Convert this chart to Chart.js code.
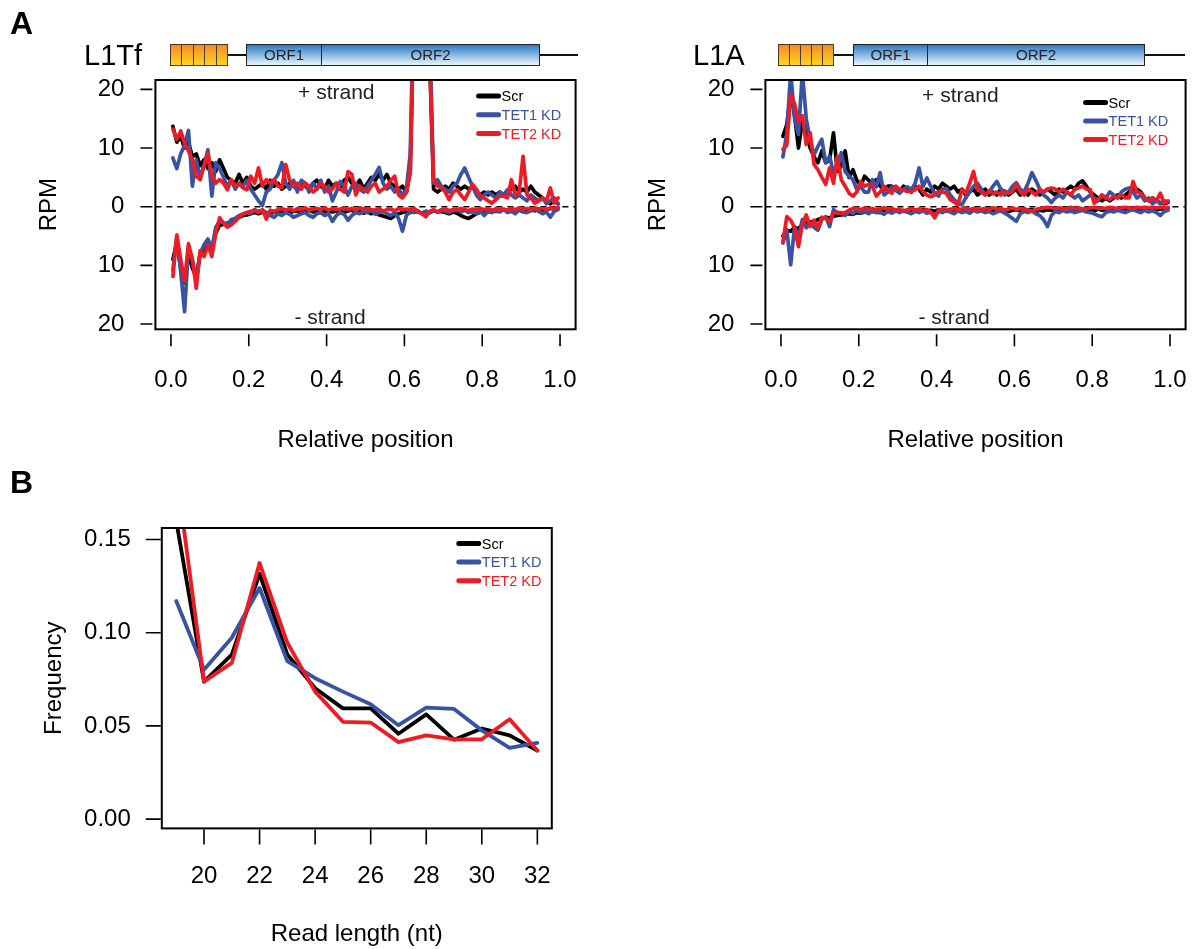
<!DOCTYPE html>
<html>
<head>
<meta charset="utf-8">
<script src="https://cdn.jsdelivr.net/npm/chart.js@4.4.1/dist/chart.umd.min.js"></script>
<style>
  body { margin: 0; background: #fff; }
  #fig { position: relative; width: 1196px; height: 949px; font-family: "Liberation Sans", Arial, sans-serif; color: #000; }
  canvas { position: absolute; }
  .panel { position: absolute; font-weight: bold; font-size: 32px; line-height: 1; }
  .te-name { position: absolute; font-size: 29px; line-height: 1; }
  .te-line { position: absolute; height: 2px; background: #111; }
  .utr { position: absolute; height: 22px; display: flex; box-sizing: border-box; border: 1px solid #4a3a1a; }
  .utr span { flex: 1; background: linear-gradient(#f28a2c, #ffd41e); border-left: 1px solid #4a3a1a; }
  .utr span:first-child { border-left: none; }
  .orf { position: absolute; height: 22px; display: flex; box-sizing: border-box; border: 1px solid #222;
         background: linear-gradient(#2b7bc1, #e9f5fd); font-size: 15px; line-height: 20px; text-align: center; color: #222; }
  .orf div { height: 100%; }
  .orf .o1 { border-right: 1.5px solid #222; }
  .orf .o2 { flex: 1; }
</style>
</head>
<body>
<div id="fig">
  <canvas id="l1tfChart" width="610" height="470" style="left:0;top:0"></canvas>
  <canvas id="l1aChart" width="586" height="470" style="left:610px;top:0"></canvas>
  <canvas id="lengthChart" width="600" height="479" style="left:0;top:470px"></canvas>

  <div class="panel" style="left:10px;top:7px">A</div>
  <div class="panel" style="left:10px;top:466px">B</div>

  <!-- element schematics -->
  <div class="te-name" style="left:84px;top:41px">L1Tf</div>
  <div class="te-line" style="left:228px;top:54px;width:350px"></div>
  <div class="utr" style="left:170px;top:44px;width:58px"><span></span><span></span><span></span><span></span><span></span></div>
  <div class="orf" style="left:246px;top:44px;width:294px"><div class="o1" style="width:74px">ORF1</div><div class="o2">ORF2</div></div>

  <div class="te-name" style="left:693px;top:41px">L1A</div>
  <div class="te-line" style="left:834px;top:54px;width:351px"></div>
  <div class="utr" style="left:778px;top:44px;width:56px"><span></span><span></span><span></span><span></span><span></span></div>
  <div class="orf" style="left:853px;top:44px;width:292px"><div class="o1" style="width:73px">ORF1</div><div class="o2">ORF2</div></div>
</div>

<script>
// ---------------------------------------------------------------------------
// Data
// ---------------------------------------------------------------------------
const seriesNames = ['Scr', 'TET1 KD', 'TET2 KD'];
const seriesColors = ['#000000', '#3953a4', '#ed1c24'];

const positions = [
  0.005, 0.015, 0.025, 0.035, 0.045, 0.055, 0.065, 0.075, 0.085, 0.095,
  0.105, 0.115, 0.125, 0.135, 0.145, 0.155, 0.165, 0.175, 0.185, 0.195,
  0.205, 0.215, 0.225, 0.235, 0.245, 0.255, 0.265, 0.275, 0.285, 0.295,
  0.305, 0.315, 0.325, 0.335, 0.345, 0.355, 0.365, 0.375, 0.385, 0.395,
  0.405, 0.415, 0.425, 0.435, 0.445, 0.455, 0.465, 0.475, 0.485, 0.495,
  0.505, 0.515, 0.525, 0.535, 0.545, 0.555, 0.565, 0.575, 0.585, 0.595,
  0.605, 0.615, 0.625, 0.635, 0.645, 0.655, 0.665, 0.675, 0.685, 0.695,
  0.705, 0.715, 0.725, 0.735, 0.745, 0.755, 0.765, 0.775, 0.785, 0.795,
  0.805, 0.815, 0.825, 0.835, 0.845, 0.855, 0.865, 0.875, 0.885, 0.895,
  0.905, 0.915, 0.925, 0.935, 0.945, 0.955, 0.965, 0.975, 0.985, 0.995
];
const relPosTicks = [0, 0.2, 0.4, 0.6, 0.8, 1.0];
const rpmTicks = [-20, -10, 0, 10, 20];

// L1Tf, + strand (RPM)
const l1tfPlusScr = [
  13.7, 11.0, 12.0, 10.0, 11.0, 8.5, 9.0, 7.0, 8.0, 6.5,
  7.5, 6.0, 8.0, 6.5, 5.0, 4.5, 4.0, 5.5, 4.0, 5.0,
  3.5, 3.0, 3.5, 4.0, 3.0, 4.5, 3.5, 4.0, 3.0, 3.5,
  4.0, 3.5, 3.0, 4.0, 3.5, 3.0, 4.0, 4.5, 3.5, 3.0,
  4.5, 3.5, 4.0, 3.0, 4.5, 5.0, 4.0, 3.5, 4.5, 3.0,
  4.0, 5.0, 4.5, 5.5, 4.5, 5.5, 4.0, 3.5, 3.0, 3.5,
  2.4, 6.0, 35.0, 50.0, 55.0, 45.0, 25.0, 3.0, 2.5, 3.0,
  3.5, 3.0, 4.0, 3.5, 3.0, 3.5, 3.0, 3.5, 2.5, 2.0,
  2.5, 2.0, 2.5, 2.0, 2.5, 2.0, 2.5, 3.0, 3.5, 2.5,
  3.0, 2.5, 3.5, 2.5, 2.0, 1.5, 1.0, 0.5, 1.0, 0.5
];
const l1tfPlusTet1 = [
  8.3, 6.5, 9.0, 10.5, 13.0, 3.5, 8.0, 5.0, 7.0, 9.7,
  1.8, 7.5, 6.5, 5.0, 3.5, 4.5, 3.0, 4.0, 3.5, 4.5,
  3.0, 2.0, 1.0, 0.2, 2.5, 3.0, 4.5, 5.5, 7.5, 4.0,
  3.0, 4.5, 2.5, 4.5, 4.0, 2.5, 4.0, 3.0, 4.5, 2.5,
  3.5, 1.0, 2.5, 4.3, 3.5, 2.0, 3.5, 4.0, 3.0, 2.5,
  3.5, 4.5, 5.5, 6.7, 4.0, 3.0, 3.5, 2.5, 3.0, 2.0,
  3.0, 9.0, 40.0, 55.0, 60.0, 50.0, 30.0, 4.0, 4.6, 3.5,
  3.0, 2.5, 3.5, 4.0, 5.5, 6.6, 5.0, 3.5, 2.0, 1.2,
  2.0, 2.5, 2.0, 1.5, 2.5, 2.0, 2.9, 2.0, 1.5, 2.0,
  1.5, 1.0, 2.0, 1.5, 1.0, 1.5, 0.5, 1.0, 1.5, 0.5
];
const l1tfPlusTet2 = [
  13.2, 11.5, 12.9, 10.8, 9.5, 8.0, 5.2, 4.6, 7.0, 9.2,
  5.2, 4.0, 4.6, 4.0, 2.9, 4.6, 3.5, 4.0, 3.2, 2.9,
  5.2, 4.0, 6.6, 3.5, 4.6, 4.0, 4.6, 3.5, 3.2, 7.2,
  4.5, 3.5, 4.0, 3.0, 4.0, 3.5, 2.5, 3.0, 4.0, 3.5,
  2.5, 3.0, 4.0, 3.0, 2.5, 6.0, 5.5, 2.0, 3.5, 3.0,
  2.5, 3.5, 4.0, 2.5, 3.0, 3.5, 4.5, 5.2, 2.0, 1.5,
  2.4, 6.0, 35.0, 50.0, 55.0, 45.0, 25.0, 4.6, 3.5, 3.2,
  2.5, 1.2, 2.5, 2.9, 2.0, 1.2, 2.5, 3.8, 3.0, 1.8,
  1.5, 1.0, 0.6, 1.2, 1.8, 1.8, 1.5, 4.6, 2.0, 2.5,
  8.6, 2.0, 1.5, 0.6, 1.0, 1.5, 1.0, 3.2, 0.6, 1.5
];
// L1Tf, - strand (RPM, plotted downwards)
const l1tfMinusScr = [
  9.0, 6.0, 10.5, 13.0, 8.0, 10.5, 12.0, 8.0, 8.0, 6.0,
  7.0, 4.5, 3.2, 3.0, 2.8, 2.5, 2.2, 1.8, 1.5, 1.4,
  1.2, 1.0, 1.2, 0.9, 1.0, 1.3, 0.8, 1.0, 0.7, 0.9,
  1.1, 0.8, 0.7, 1.0, 0.8, 0.6, 0.9, 0.7, 1.0, 0.8,
  0.6, 0.9, 0.7, 0.8, 1.0, 0.7, 0.6, 0.9, 0.8, 1.1,
  0.9, 1.2, 1.0, 1.4, 1.6, 1.8, 2.0, 1.5, 1.2, 1.0,
  0.8, 1.0, 0.7, 0.9, 1.1, 0.8, 1.0, 0.7, 0.9, 0.8,
  1.0, 1.2, 0.9, 1.1, 1.5, 1.8, 2.0, 1.6, 1.2, 0.9,
  0.7, 0.9, 0.6, 0.8, 0.7, 0.5, 0.8, 0.6, 0.7, 0.5,
  0.6, 0.8, 0.5, 0.7, 0.4, 0.6, 0.5, 0.3, 0.4, 0.2
];
const l1tfMinusTet1 = [
  10.8, 5.1, 11.0, 17.9, 7.0, 9.0, 12.5, 8.0, 6.5, 5.5,
  7.2, 3.5, 2.5, 2.8, 3.0, 2.2, 2.0, 1.5, 1.3, 1.0,
  1.2, 0.5, 0.8, 0.6, 1.0, 1.5, 1.8, 1.2, 1.5, 1.0,
  1.3, 1.8, 1.5, 1.2, 1.0, 1.5, 1.8, 1.2, 1.0, 1.5,
  1.2, 2.5, 1.5, 1.0, 1.3, 2.3, 1.5, 1.0, 1.2, 0.8,
  1.0, 0.6, 1.3, 1.0, 0.8, 1.2, 1.5, 1.0, 2.0, 4.2,
  1.5, 0.8, 1.0, 0.7, 1.2, 0.8, 1.0, 0.6, 0.9, 0.5,
  0.8, 1.0, 0.7, 0.5, 0.9, 0.6, 1.0, 0.8, 1.2, 0.7,
  1.5, 0.8, 1.0, 0.6, 0.9, 0.5, 1.0, 0.8, 1.2, 0.6,
  0.9, 1.0, 0.7, 0.5, 0.8, 1.2, 0.9, 1.8, 0.8, 0.5
];
const l1tfMinusTet2 = [
  11.9, 4.8, 9.0, 12.7, 6.3, 9.0, 13.9, 7.5, 8.5, 6.5,
  8.5, 4.5, 1.9, 2.8, 3.5, 3.1, 2.5, 1.8, 1.2, 1.0,
  0.8, 0.6, 1.0, 0.5, 2.1, 0.6, 0.8, 0.5, 0.3, 0.6,
  0.4, 0.7, 0.3, 0.5, 0.2, 0.6, 0.4, 0.3, 0.5, 0.2,
  0.6, 0.3, 0.5, 0.4, 0.2, 0.5, 0.3, 0.6, 0.2, 0.4,
  0.3, 0.5, 0.6, 0.3, 0.8, 0.5, 0.4, 0.7, 0.3, 0.5,
  0.4, 0.6, 0.3, 0.8, 1.2, 1.7, 0.8, 0.5, 0.9, 0.6,
  0.4, 0.7, 0.5, 0.6, 0.3, 0.5, 0.7, 0.4, 0.6, 0.3,
  0.5, 0.4, 0.7, 0.3, 0.5, 0.4, 0.6, 0.3, 0.5, 0.2,
  0.4, 0.3, 0.5, 0.2, 0.4, 0.3, 0.5, 0.2, 0.3, 0.1
];

// L1A, + strand (RPM)
const l1aPlusScr = [
  12.0, 14.0, 19.5, 15.5, 10.0, 14.5, 13.0, 10.0, 8.5, 7.5,
  9.5, 7.5, 8.0, 12.6, 6.0, 7.0, 9.5, 5.0, 6.3, 4.5,
  3.5, 5.2, 4.5, 4.0, 4.6, 3.5, 2.9, 3.5, 3.5, 3.0,
  2.5, 3.5, 3.0, 2.5, 3.5, 3.0, 2.0, 3.0, 2.5, 3.5,
  3.0, 4.0, 3.5, 3.0, 3.5, 2.5, 3.0, 2.0, 2.5, 3.0,
  2.0, 2.5, 3.0, 2.0, 2.5, 2.0, 3.0, 2.5, 2.0, 2.5,
  3.0, 2.0, 2.5, 2.0, 3.0, 2.5, 2.0, 2.5, 3.0, 2.5,
  2.0, 3.0, 2.5, 3.0, 3.5, 3.0, 4.0, 4.4, 3.5, 2.5,
  2.0, 1.5, 1.0, 1.5, 1.0, 1.5, 2.0, 1.5, 2.0, 2.5,
  3.0, 3.0, 2.5, 1.5, 1.0, 1.5, 1.0, 0.7, 0.5, 0.7
];
const l1aPlusTet1 = [
  8.5, 12.5, 23.0, 15.0, 12.3, 23.0, 15.0, 11.4, 8.8, 10.3,
  11.5, 7.5, 8.6, 5.7, 6.9, 9.2, 6.0, 5.2, 4.6, 2.9,
  3.4, 2.5, 2.5, 4.6, 3.4, 5.8, 2.0, 2.5, 3.4, 2.8,
  2.3, 3.0, 3.4, 2.9, 4.0, 6.6, 3.4, 4.9, 3.5, 2.3,
  1.8, 3.0, 3.1, 2.0, 1.2, 0.6, 0.3, 1.5, 2.5, 3.5,
  4.0, 3.0, 2.0, 2.5, 3.5, 4.3, 3.0, 2.0, 2.5, 3.5,
  4.1, 3.0, 2.5, 4.0, 5.8, 4.5, 3.0, 2.0, 1.5, 0.7,
  1.5, 2.0, 1.5, 2.5, 2.0, 1.5, 2.0, 1.0, 1.5, 2.0,
  1.5, 1.0, 2.0, 1.5, 2.5, 2.0, 1.5, 2.5, 3.0, 3.2,
  2.5, 1.5, 2.0, 1.0, 1.5, 0.5, 1.0, 0.5, 1.0, 0.8
];
const l1aPlusTet2 = [
  9.8, 10.5, 19.1, 17.5, 14.5, 15.5, 10.6, 12.6, 7.2, 6.3,
  5.0, 3.8, 6.6, 4.0, 8.6, 4.6, 3.5, 2.3, 1.8, 2.5,
  4.3, 3.5, 3.8, 3.5, 1.8, 2.5, 3.5, 2.8, 2.3, 3.5,
  2.9, 2.8, 2.6, 2.6, 2.9, 3.5, 2.5, 2.0, 1.7, 2.0,
  2.6, 2.5, 2.3, 1.2, 0.8, 0.3, 2.9, 2.3, 4.0, 6.0,
  3.0, 2.5, 2.0, 2.7, 2.2, 2.5, 2.0, 2.7, 2.3, 2.5,
  3.8, 2.5, 2.0, 3.0, 2.5, 2.0, 3.0, 2.5, 3.0, 3.2,
  3.0, 2.5, 3.0, 2.5, 2.0, 3.0, 3.2, 3.5, 3.0, 2.9,
  0.6, 1.2, 2.0, 1.5, 1.2, 1.8, 1.5, 2.0, 1.5, 1.5,
  4.3, 2.5, 2.3, 1.5, 1.0, 1.5, 1.0, 2.3, 0.6, 1.0
];
// L1A, - strand (RPM, plotted downwards)
const l1aMinusScr = [
  5.0, 4.0, 4.2, 3.5, 3.8, 3.0, 2.8, 2.6, 2.5, 2.2,
  2.0, 1.8, 1.9, 1.6, 1.5, 1.4, 1.3, 1.2, 1.3, 1.0,
  1.1, 0.9, 1.0, 0.8, 0.9, 1.0, 0.7, 0.8, 0.9, 0.6,
  0.8, 0.7, 0.9, 0.6, 0.7, 0.8, 0.5, 0.7, 0.6, 0.8,
  0.5, 0.6, 0.7, 0.5, 0.6, 0.4, 0.7, 0.5, 0.6, 0.4,
  0.5, 0.6, 0.4, 0.5, 0.7, 0.4, 0.6, 0.5, 0.8, 0.6,
  0.5, 0.7, 0.4, 0.6, 0.5, 0.8, 0.6, 0.7, 0.5, 0.6,
  0.4, 0.7, 0.5, 0.6, 0.8, 0.5, 0.7, 0.4, 0.6, 0.5,
  0.7, 0.4, 0.6, 0.5, 0.8, 0.6, 0.4, 0.7, 0.5, 0.6,
  0.4, 0.5, 0.7, 0.4, 0.5, 0.3, 0.5, 0.4, 0.3, 0.2
];
const l1aMinusTet1 = [
  6.2, 4.0, 9.9, 3.4, 5.1, 2.2, 3.6, 2.8, 3.5, 4.0,
  2.2, 1.7, 3.4, 0.5, 1.2, 1.0, 1.5, 0.8, 1.2, 0.6,
  1.0, 0.8, 1.2, 0.7, 1.0, 0.9, 1.3, 0.8, 1.1, 0.7,
  1.0, 0.6, 0.9, 1.2, 0.8, 1.0, 0.7, 1.1, 0.9, 1.4,
  0.8, 1.0, 0.6, 0.9, 1.2, 0.7, 1.0, 0.8, 1.1, 0.6,
  0.9, 0.7, 1.0, 0.8, 1.2, 0.9, 0.7, 1.1, 1.5, 2.0,
  2.5, 1.2, 0.8, 1.0, 0.7, 1.2, 1.5, 2.2, 3.4, 1.5,
  0.8, 1.0, 0.6, 0.9, 0.7, 1.0, 0.8, 0.6, 0.9, 1.0,
  1.2, 1.5, 1.7, 1.0, 0.7, 0.9, 0.6, 0.8, 1.0, 0.7,
  0.5, 0.8, 1.0, 0.6, 0.9, 0.7, 1.0, 1.5, 0.8, 0.6
];
const l1aMinusTet2 = [
  6.0, 1.7, 2.3, 3.6, 6.8, 3.0, 1.4, 3.4, 2.3, 3.6,
  1.8, 2.0, 2.5, 1.1, 0.9, 1.2, 1.0, 0.6, 0.3, 0.3,
  0.5, 0.2, 0.4, 0.3, 0.6, 0.4, 0.2, 0.5, 0.3, 0.6,
  0.4, 0.8, 0.5, 0.3, 0.6, 0.4, 0.7, 0.5, 0.9, 1.9,
  0.6, 0.4, 0.7, 0.5, 0.3, 0.6, 0.4, 0.2, 0.5, 0.3,
  0.6, 0.4, 0.3, 0.5, 0.2, 0.4, 0.3, 0.6, 0.4, 0.2,
  0.5, 0.3, 0.4, 0.6, 0.8, 0.5, 0.3, 0.2, 0.1, 0.2,
  0.3, 0.2, 0.4, 0.3, 0.1, 0.3, 0.2, 0.4, 0.3, 0.2,
  0.1, 0.3, 0.2, 0.3, 0.1, 0.2, 0.3, 0.2, 0.1, 0.2,
  0.3, 0.1, 0.2, 0.1, 0.2, 0.1, 0.2, 0.1, 0.1, 0.1
];

// Read length distribution (panel B)
const readLengths = [19, 20, 21, 22, 23, 24, 25, 26, 27, 28, 29, 30, 31, 32];
const lengthTicks = [20, 22, 24, 26, 28, 30, 32];
const freqTicks = [0, 0.05, 0.10, 0.15];
const freqScr  = [0.160, 0.0738, 0.0883, 0.1316, 0.0883, 0.0702, 0.0594, 0.0594, 0.0458, 0.0562, 0.0426, 0.0486, 0.0449, 0.0368];
const freqTet1 = [0.117, 0.0801, 0.0973, 0.1240, 0.0847, 0.0756, 0.0684, 0.0616, 0.0504, 0.0598, 0.0591, 0.0476, 0.0382, 0.0409];
const freqTet2 = [0.187, 0.0738, 0.0838, 0.1374, 0.0946, 0.0684, 0.0522, 0.0518, 0.0413, 0.0449, 0.0428, 0.0428, 0.0536, 0.0368];

// ---------------------------------------------------------------------------
// Helpers
// ---------------------------------------------------------------------------
const FONT = '"Liberation Sans", Arial, Helvetica, sans-serif';
Chart.defaults.font.family = FONT;
Chart.defaults.color = '#000';

function lineSet(data, k, width) {
  return {
    label: seriesNames[k],
    data: data,
    borderColor: seriesColors[k],
    borderWidth: width,
    pointRadius: 0,
    tension: 0,
    fill: false,
    borderJoinStyle: 'round',
    borderCapStyle: 'round',
    order: 3 - k   // red on top, black underneath
  };
}

function profileSets(plus, minus) {
  const sets = [];
  plus.forEach((vals, k) => {
    sets.push(lineSet(vals.map((v, i) => ({ x: positions[i], y: v })), k, 3.7));
    sets.push(lineSet(minus[k].map((v, i) => ({ x: positions[i], y: -v })), k, 3.7));
  });
  return sets;
}

// keep the plot box where it is: no extra room for edge tick labels
function fixHeight(h) {
  return s => { s.height = h; s.paddingLeft = 0; s.paddingRight = 0; };
}

// R-style frame: box, detached ticks, dashed zero line, labels, legend
function frame(cfg) {
  return {
    id: 'frame',
    beforeDatasetsDraw(chart) {
      if (!cfg.zeroLine) return;
      const { ctx, chartArea: a, scales: { y } } = chart;
      const y0 = y.getPixelForValue(0);
      ctx.save();
      ctx.strokeStyle = '#000';
      ctx.lineWidth = 1.5;
      ctx.setLineDash([6, 5]);
      ctx.beginPath();
      ctx.moveTo(a.left, y0);
      ctx.lineTo(a.right, y0);
      ctx.stroke();
      ctx.restore();
    },
    afterDraw(chart) {
      const { ctx, chartArea: a, scales: { x, y } } = chart;
      ctx.save();
      ctx.strokeStyle = '#000';
      ctx.lineWidth = 2;
      ctx.strokeRect(a.left, a.top, a.right - a.left, a.bottom - a.top);

      ctx.lineWidth = 1.6;
      ctx.beginPath();
      x.ticks.forEach(t => {
        const px = x.getPixelForValue(t.value);
        ctx.moveTo(px, a.bottom + cfg.xGap);
        ctx.lineTo(px, a.bottom + cfg.xGap + cfg.tickLen);
      });
      y.ticks.forEach(t => {
        const py = y.getPixelForValue(t.value);
        ctx.moveTo(a.left - cfg.yGap, py);
        ctx.lineTo(a.left - cfg.yGap - cfg.tickLen, py);
      });
      ctx.stroke();

      ctx.fillStyle = '#222';
      ctx.font = '21px ' + FONT;
      ctx.textAlign = 'center';
      ctx.textBaseline = 'middle';
      (cfg.notes || []).forEach(n => {
        ctx.fillText(n.text, x.getPixelForValue(n.x), y.getPixelForValue(n.y));
      });

      // legend
      const lg = cfg.legend;
      ctx.font = '14.5px ' + FONT;
      ctx.textAlign = 'left';
      ctx.lineCap = 'round';
      seriesNames.forEach((name, k) => {
        const ly = a.top + lg.top + k * lg.step;
        ctx.strokeStyle = seriesColors[k];
        ctx.lineWidth = 5;
        ctx.beginPath();
        ctx.moveTo(a.right - lg.right - 20, ly);
        ctx.lineTo(a.right - lg.right, ly);
        ctx.stroke();
        ctx.fillStyle = seriesColors[k];
        ctx.fillText(name, a.right - lg.right + 3, ly + 1);
      });
      ctx.restore();
    }
  };
}

function axisFont() { return { size: 24, family: FONT }; }

function profileChart(id, plus, minus, opts) {
  return new Chart(document.getElementById(id), {
    type: 'line',
    data: { datasets: profileSets(plus, minus) },
    options: {
      responsive: false,
      devicePixelRatio: 1,
      animation: false,
      layout: { padding: { top: 80, right: opts.padRight, left: 0, bottom: 0 } },
      plugins: { legend: { display: false }, tooltip: { enabled: false } },
      scales: {
        x: {
          type: 'linear',
          min: -0.04,
          max: 1.04,
          afterBuildTicks: s => { s.ticks = relPosTicks.map(v => ({ value: v })); },
          afterFit: fixHeight(140.7),
          grid: { display: false, drawTicks: false },
          border: { display: false },
          ticks: { callback: v => v.toFixed(1), font: axisFont(), color: '#000', padding: 37, autoSkip: false, maxRotation: 0 },
          title: { display: true, text: 'Relative position', font: axisFont(), color: '#000', padding: { top: 0, bottom: 15.6 } }
        },
        y: {
          min: -20.9,
          max: 21.6,
          afterBuildTicks: s => { s.ticks = rpmTicks.map(v => ({ value: v })); },
          afterFit: s => { s.width = 155.4; },
          grid: { display: false, drawTicks: false },
          border: { display: false },
          ticks: { callback: v => String(Math.abs(v)), font: axisFont(), color: '#000', padding: 31 },
          title: { display: true, text: 'RPM', font: axisFont(), color: '#000', padding: { top: opts.titlePad, bottom: 0 } }
        }
      }
    },
    plugins: [frame({
      zeroLine: true, xGap: 5, yGap: 3, tickLen: 12,
      notes: opts.notes,
      legend: opts.legend
    })]
  });
}

// ---------------------------------------------------------------------------
// Panel A
// ---------------------------------------------------------------------------
profileChart('l1tfChart',
  [l1tfPlusScr, l1tfPlusTet1, l1tfPlusTet2],
  [l1tfMinusScr, l1tfMinusTet1, l1tfMinusTet2],
  {
    padRight: 34.4, titlePad: 35,
    notes: [{ text: '+ strand', x: 0.425, y: 19.4 }, { text: '- strand', x: 0.409, y: -19.0 }],
    legend: { top: 16, step: 18.8, right: 77 }
  });

profileChart('l1aChart',
  [l1aPlusScr, l1aPlusTet1, l1aPlusTet2],
  [l1aMinusScr, l1aMinusTet1, l1aMinusTet2],
  {
    padRight: 10.4, titlePad: 34,
    notes: [{ text: '+ strand', x: 0.461, y: 18.8 }, { text: '- strand', x: 0.445, y: -19.0 }],
    legend: { top: 22.5, step: 18.5, right: 80 }
  });

// ---------------------------------------------------------------------------
// Panel B
// ---------------------------------------------------------------------------
new Chart(document.getElementById('lengthChart'), {
  type: 'line',
  data: {
    datasets: [freqScr, freqTet1, freqTet2].map((vals, k) =>
      lineSet(vals.map((v, i) => ({ x: readLengths[i], y: v })), k, 3.8))
  },
  options: {
    responsive: false,
    devicePixelRatio: 1,
    animation: false,
    layout: { padding: { top: 58, right: 48.2, left: 0, bottom: 0 } },
    plugins: { legend: { display: false }, tooltip: { enabled: false } },
    scales: {
      x: {
        type: 'linear',
        min: 18.48,
        max: 32.52,
        afterBuildTicks: s => { s.ticks = lengthTicks.map(v => ({ value: v })); },
        afterFit: fixHeight(120.6),
        grid: { display: false, drawTicks: false },
        border: { display: false },
        ticks: { callback: v => String(v), font: axisFont(), color: '#000', padding: 33.7, autoSkip: false, maxRotation: 0 },
        title: { display: true, text: 'Read length (nt)', font: axisFont(), color: '#000', padding: { top: 0, bottom: 0 } }
      },
      y: {
        min: -0.005,
        max: 0.1562,
        afterBuildTicks: s => { s.ticks = freqTicks.map(v => ({ value: v })); },
        afterFit: s => { s.width = 161.8; },
        grid: { display: false, drawTicks: false },
        border: { display: false },
        ticks: { callback: v => v.toFixed(2), font: axisFont(), color: '#000', padding: 31 },
        title: { display: true, text: 'Frequency', font: axisFont(), color: '#000', padding: { top: 40, bottom: 0 } }
      }
    }
  },
  plugins: [frame({
    zeroLine: false, xGap: 1, yGap: 1, tickLen: 15,
    legend: { top: 15.5, step: 18.6, right: 73 }
  })]
});
</script>
</body>
</html>
